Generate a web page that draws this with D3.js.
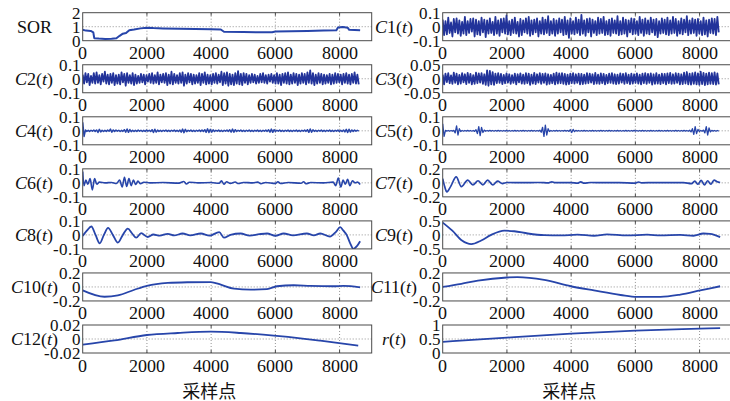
<!DOCTYPE html>
<html>
<head>
<meta charset="utf-8">
<script src="https://cdn.jsdelivr.net/npm/d3@7/dist/d3.min.js"></script>
<style>
  @font-face { font-family: "SerifLocal"; font-style: normal; src: local("Liberation Serif"), local("LiberationSerif"), local("Times New Roman"); }
  @font-face { font-family: "SerifLocal"; font-style: italic; src: local("Liberation Serif Italic"), local("LiberationSerif-Italic"), local("Times New Roman Italic"); }
  body { margin: 0; background: #fff; }
  svg { display: block; }
  svg text { font-family: "SerifLocal", "Liberation Serif", "Times New Roman", serif; }
  svg text.cjk { font-family: "Noto Sans CJK SC", sans-serif; }
  .box { fill: none; stroke: #4a4a4a; stroke-width: 1; }
  .grid { stroke: #777; stroke-width: 0.8; stroke-dasharray: 1,2; }
  .sig { fill: none; stroke-linejoin: round; }
</style>
</head>
<body>
<script>
// record length (samples) and x axis
var N = 8640;
var xTicks = [0, 2000, 4000, 6000, 8000];
var xMax = 9000;

// slow components as [sample, value]
var sorData = [[0,.78],[100,.72],[250,.7],[330,.6],[360,.18],[500,.15],[700,.13],[900,.14],[1050,.18],[1150,.35],[1250,.5],[1350,.55],[1450,.75],[1600,.8],[1800,.88],[2000,.93],[2200,.9],[2500,.88],[3000,.86],[3500,.84],[4000,.82],[4300,.8],[4400,.64],[5000,.62],[5500,.6],[5900,.6],[6000,.65],[6500,.68],[7000,.7],[7500,.72],[7900,.74],[7950,.95],[8100,.98],[8250,.93],[8300,.78],[8640,.74]];

var c6Data = [[0,.08],[40,-.02],[100,.02],[160,-.01],[230,.03],[300,-.05],[370,.03],[440,-.01],[520,.005],[700,0],[900,.003],[1050,-.005],[1150,.02],[1230,-.03],[1300,.04],[1370,-.025],[1440,.03],[1510,-.02],[1580,.02],[1650,-.012],[1720,.012],[1800,-.006],[1900,.004],[2100,0],[2500,.002],[3000,-.002],[3150,.01],[3230,-.008],[3320,.004],[3600,0],[4000,.002],[4250,-.003],[4320,.015],[4400,-.01],[4480,.008],[4600,-.004],[4750,.006],[4850,-.005],[5000,.003],[5300,0],[5450,.005],[5550,-.006],[5700,.003],[6000,-.004],[6080,.008],[6160,-.005],[6400,.002],[6800,-.003],[6880,.008],[6950,-.006],[7100,.002],[7500,0],[7800,.005],[7880,-.02],[7960,.035],[8040,-.03],[8110,.02],[8180,-.01],[8250,.025],[8320,-.02],[8400,.015],[8480,0],[8560,.005],[8640,-.012]];

var c7Data = [[0,.06],[60,-.05],[130,-.13],[250,-.05],[420,.085],[580,-.055],[780,.04],[940,-.03],[1100,.03],[1250,-.03],[1400,.04],[1560,-.03],[1710,.025],[1860,-.01],[2000,.005],[2500,.003],[3000,.005],[3300,0],[3400,.015],[3500,.002],[4000,.004],[4200,-.005],[4300,.015],[4400,-.005],[4600,.005],[5000,.002],[5500,.004],[6000,-.003],[6100,.012],[6200,0],[6600,.004],[7000,.002],[7500,.004],[7750,-.01],[7850,.025],[7950,-.02],[8050,.035],[8150,-.03],[8250,.03],[8350,-.02],[8450,.04],[8550,.015],[8640,.005]];

var c8Data = [[0,-.007],[130,.03],[270,.06],[400,0],[530,-.06],[660,0],[790,.05],[940,0],[1095,-.055],[1250,0],[1405,.045],[1540,.01],[1665,-.02],[1820,.012],[2025,-.015],[2200,.003],[2400,-.005],[2650,.008],[2850,-.004],[3110,.01],[3350,-.003],[3680,.01],[3950,-.005],[4250,.02],[4400,-.02],[4600,0],[4920,.01],[5200,-.005],[5500,.005],[5740,.01],[6000,-.006],[6260,.01],[6550,-.004],[6980,.01],[7200,-.003],[7400,.01],[7700,-.012],[7880,.02],[8020,.055],[8120,.03],[8220,0],[8330,-.06],[8430,-.1],[8540,-.08],[8640,-.045]];

var c9Data = [[0,.44],[300,.15],[600,-.2],[890,-.33],[1200,-.2],[1510,0],[1920,.15],[2230,.13],[2650,.05],[3160,-.01],[3680,-.02],[4200,.01],[4710,-.03],[5120,.02],[5740,-.02],[6370,.01],[6780,-.02],[7400,0],[7810,-.03],[8120,.05],[8330,.04],[8640,-.08]];

var c10Data = [[0,-.048],[680,-.14],[1095,-.12],[1610,-.04],[2000,.015],[2650,.057],[3260,.067],[3990,.07],[4300,.033],[4710,-.024],[5230,-.038],[5740,-.03],[6050,.01],[6570,.024],[7090,.015],[7810,.01],[8120,.015],[8640,-.005]];

var c11Data = [[0,0],[580,.045],[1095,.09],[2000,.135],[2330,.14],[3160,.1],[3990,.01],[4710,-.05],[5540,-.115],[6050,-.143],[6780,-.143],[7400,-.11],[8020,-.05],[8640,.01]];

var c12Data = [[0,-.0081],[990,-.002],[2000,.0057],[2960,.0086],[3990,.0105],[4920,.0086],[5950,.0048],[6780,.001],[7400,-.0024],[8580,-.0095]];

var rData = [[0,.4],[2000,.55],[4000,.69],[6000,.8],[8000,.87],[8640,.89]];

// fast components, read as evenly spaced samples across the record
var c1Vals = [.05,-.06,.04,-.055,.065,-.045,.03,-.07,.055,-.04,.06,-.05,.045,-.065,.035,-.05,.07,-.06,.04,-.045,
.055,-.035,.06,-.07,.05,-.055,.04,-.06,.065,-.04,.05,-.075,.045,-.05,.06,-.045,.035,-.06,.07,-.05,
.045,-.065,.055,-.04,.06,-.05,.08,-.055,.04,-.06,.05,-.045,.065,-.05,.035,-.07,.055,-.06,.045,-.04,
.06,-.05,.07,-.065,.045,-.055,.05,-.04,.06,-.07,.04,-.05,.065,-.055,.05,-.045,.075,-.06,.04,-.05,
.055,-.065,.045,-.05,.06,-.04,.05,-.06,.07,-.055,.045,-.08,.06,-.05,.04,-.055,.065,-.045,.05,-.06,
.085,-.05,.045,-.065,.055,-.04,.06,-.07,.05,-.045,.04,-.06,.065,-.05,.055,-.045,.07,-.06,.04,-.055,
.05,-.065,.06,-.045,.045,-.05,.075,-.06,.04,-.055,.065,-.05,.05,-.07,.045,-.04,.06,-.055,.055,-.05,
.04,-.06,.07,-.045,.05,-.065,.06,-.05,.045,-.055,.065,-.04,.05,-.06,.055,-.075,.04,-.05,.06,-.045,
.05,-.055,.065,-.06,.045,-.05,.07,-.045,.055,-.065,.04,-.05,.06,-.055,.05,-.04,.075,-.06,.045,-.05,
.06,-.045,.05,-.065,.055,-.05,.04,-.06,.065,-.055,.045,-.07,.05,-.045,.06,-.05,.055,-.06,.07,-.04];

var c2Vals = [.03,-.035,.04,-.025,.035,-.045,.02,-.03,.04,-.035,.045,-.03,.025,-.04,.035,-.02,.05,-.035,.03,-.04,
.035,-.03,.04,-.045,.025,-.035,.03,-.04,.045,-.025,.035,-.05,.04,-.03,.025,-.035,.04,-.045,.03,-.035,
.02,-.03,.035,-.025,.03,-.04,.025,-.02,.035,-.03,.04,-.035,.025,-.03,.045,-.04,.03,-.025,.035,-.03,
.04,-.045,.03,-.035,.05,-.04,.035,-.03,.025,-.035,.04,-.03,.045,-.05,.03,-.035,.04,-.025,.035,-.04,
.03,-.035,.025,-.03,.04,-.045,.035,-.03,.045,-.04,.03,-.035,.025,-.04,.035,-.03,.04,-.035,.03,-.025,
.05,-.045,.04,-.035,.045,-.05,.035,-.04,.03,-.045,.04,-.035,.055,-.04,.035,-.045,.04,-.03,.035,-.04,
.025,-.03,.035,-.025,.03,-.035,.02,-.03,.035,-.025,.04,-.03,.025,-.035,.03,-.02,.035,-.03,.025,-.035,
.04,-.035,.03,-.045,.035,-.03,.04,-.035,.045,-.04,.03,-.035,.04,-.03,.035,-.045,.03,-.035,.04,-.03,
.035,-.04,.045,-.03,.06,-.035,.04,-.045,.03,-.035,.04,-.03,.035,-.04,.03,-.035,.025,-.03,.035,-.04,
.03,-.035,.04,-.03,.035,-.025,.03,-.04,.035,-.03,.04,-.035,.03,-.04,.035,-.03,.045,-.035,.03,-.04];

var c3Vals = [.015,-.02,.018,-.012,.02,-.016,.012,-.018,.022,-.015,.018,-.02,.014,-.017,.02,-.013,.016,-.019,.021,-.015,
.017,-.02,.013,-.018,.022,-.016,.019,-.014,.02,-.018,.016,-.022,.03,-.025,.028,-.02,.024,-.022,.018,-.016,
.02,-.015,.017,-.019,.014,-.016,.019,-.014,.016,-.018,.013,-.015,.018,-.02,.016,-.013,.019,-.017,.015,-.018,
.02,-.016,.018,-.022,.015,-.017,.021,-.019,.016,-.014,.02,-.018,.017,-.015,.019,-.021,.016,-.018,.014,-.016,
.018,-.02,.022,-.017,.019,-.016,.02,-.018,.017,-.021,.015,-.019,.018,-.016,.02,-.017,.016,-.015,.018,-.02,
.017,-.019,.015,-.017,.02,-.016,.018,-.014,.016,-.019,.021,-.017,.015,-.018,.019,-.016,.017,-.02,.014,-.016,
.018,-.015,.02,-.017,.016,-.019,.015,-.017,.019,-.014,.017,-.018,.02,-.016,.015,-.019,.018,-.017,.016,-.015,
.019,-.017,.015,-.02,.018,-.016,.02,-.018,.017,-.015,.019,-.021,.016,-.018,.02,-.017,.015,-.019,.018,-.016,
.017,-.02,.019,-.016,.021,-.018,.016,-.017,.02,-.015,.018,-.02,.016,-.019,.022,-.017,.024,-.02,.018,-.021,
.02,-.018,.023,-.02,.019,-.022,.025,-.019,.021,-.023,.018,-.02,.022,-.018,.02,-.019,.023,-.021,.019,-.02];

var c4Vals = [.06,-.04,.005,-.004,.003,-.005,.004,-.003,.005,-.004,.006,-.012,.01,-.008,.004,-.005,.003,-.004,.005,-.003,
.012,-.01,.006,-.004,.005,-.003,.004,-.005,.003,-.004,.008,-.01,.013,-.011,.009,-.006,.004,-.005,.003,-.004,
.005,-.003,.004,-.005,.003,-.004,.005,-.003,.004,-.005,.008,-.012,.011,-.009,.005,-.004,.003,-.005,.004,-.003,
.005,-.004,.003,-.005,.004,-.003,.005,-.004,.003,-.005,.006,-.01,.012,-.013,.01,-.006,.004,-.003,.005,-.004,
.003,-.005,.004,-.003,.005,-.004,.006,-.005,.008,-.011,.014,-.012,.01,-.009,.007,-.005,.004,-.003,.005,-.004,
.003,-.005,.004,-.003,.005,-.004,.007,-.009,.012,-.01,.008,-.005,.004,-.003,.005,-.004,.003,-.005,.004,-.003,
.005,-.004,.003,-.005,.004,-.003,.005,-.004,.003,-.005,.004,-.003,.005,-.004,.007,-.01,.012,-.011,.008,-.005,
.004,-.003,.005,-.004,.003,-.005,.004,-.003,.005,-.004,.003,-.005,.004,-.003,.005,-.004,.003,-.005,.004,-.003,
.005,-.004,.008,-.011,.013,-.01,.007,-.004,.003,-.005,.004,-.003,.005,-.004,.003,-.005,.004,-.003,.005,-.004,
.003,-.005,.004,-.003,.005,-.004,.003,-.005,.006,-.008,.01,-.012,.011,-.009,.006,-.004,.005,-.003,.004,-.003];

var c5Vals = [.05,-.04,.003,-.002,.002,-.003,.002,-.002,.003,-.015,.035,-.03,.015,-.005,.002,-.003,.002,-.002,.003,-.002,
.002,-.003,.002,-.004,.008,-.02,.03,-.035,.025,-.012,.005,-.003,.002,-.002,.003,-.002,.002,-.003,.002,-.002,
.003,-.002,.002,-.003,.002,-.002,.003,-.002,.002,-.003,.002,-.002,.003,-.002,.002,-.003,.002,-.002,.003,-.002,
.002,-.003,.002,-.002,.003,-.002,.002,-.003,.002,-.002,.004,-.01,.025,-.04,.04,-.03,.015,-.005,.002,-.003,
.002,-.002,.003,-.002,.002,-.003,.002,-.002,.003,-.002,.002,-.004,.008,-.012,.01,-.006,.003,-.002,.002,-.003,
.002,-.002,.003,-.002,.002,-.003,.002,-.002,.003,-.002,.002,-.003,.002,-.002,.003,-.002,.002,-.003,.002,-.002,
.003,-.002,.002,-.003,.002,-.002,.003,-.002,.002,-.003,.002,-.002,.003,-.002,.002,-.003,.002,-.002,.003,-.002,
.002,-.003,.002,-.002,.003,-.002,.002,-.003,.002,-.002,.003,-.002,.002,-.003,.002,-.002,.003,-.002,.002,-.003,
.002,-.002,.003,-.002,.002,-.003,.002,-.002,.003,-.002,.002,-.003,.002,-.002,.003,-.002,.002,-.003,.004,-.008,
.015,-.025,.03,-.02,.01,-.004,.002,-.003,.005,-.015,.03,-.03,.02,-.008,.003,-.002,.002,-.003,.002,-.002];

// y ticks per panel
var sorTicks = [0, 1, 2];
var c1Ticks = [-0.1, 0, 0.1];
var c3Ticks = [-0.05, 0, 0.05];
var c7Ticks = [-0.2, 0, 0.2];
var c9Ticks = [-0.5, 0, 0.5];
var c12Ticks = [-0.02, 0, 0.02];
var rTicks = [0, 0.5, 1];

function spread(vals) {
  var step = N / vals.length;
  return vals.map(function(v, i) { return [i * step, v]; });
}

var panels = [
  {col:0, row:0, lab:["SOR"],            data:sorData,        ticks:sorTicks, curve:d3.curveLinear, w:2},
  {col:0, row:1, lab:["C","2(","t",")"], data:spread(c2Vals), ticks:c1Ticks,  curve:d3.curveLinear, w:1.8, dark:true},
  {col:0, row:2, lab:["C","4(","t",")"], data:spread(c4Vals), ticks:c1Ticks,  curve:d3.curveLinear, w:1.5},
  {col:0, row:3, lab:["C","6(","t",")"], data:c6Data,         ticks:c1Ticks,  curve:d3.curveMonotoneX, w:1.6},
  {col:0, row:4, lab:["C","8(","t",")"], data:c8Data,         ticks:c1Ticks,  curve:d3.curveMonotoneX, w:1.8},
  {col:0, row:5, lab:["C","10(","t",")"],data:c10Data,        ticks:c7Ticks,  curve:d3.curveMonotoneX, w:1.8},
  {col:0, row:6, lab:["C","12(","t",")"],data:c12Data,        ticks:c12Ticks, curve:d3.curveMonotoneX, w:1.8},
  {col:1, row:0, lab:["C","1(","t",")"], data:spread(c1Vals), ticks:c1Ticks,  curve:d3.curveLinear, w:1.8, dark:true},
  {col:1, row:1, lab:["C","3(","t",")"], data:spread(c3Vals), ticks:c3Ticks,  curve:d3.curveLinear, w:1.8, dark:true},
  {col:1, row:2, lab:["C","5(","t",")"], data:spread(c5Vals), ticks:c1Ticks,  curve:d3.curveLinear, w:1.3},
  {col:1, row:3, lab:["C","7(","t",")"], data:c7Data,         ticks:c7Ticks,  curve:d3.curveMonotoneX, w:1.7},
  {col:1, row:4, lab:["C","9(","t",")"], data:c9Data,         ticks:c9Ticks,  curve:d3.curveMonotoneX, w:1.8},
  {col:1, row:5, lab:["C","11(","t",")"],data:c11Data,        ticks:c7Ticks,  curve:d3.curveMonotoneX, w:1.8},
  {col:1, row:6, lab:["r","(","t",")"],  data:rData,          ticks:rTicks,   curve:d3.curveMonotoneX, w:1.8}
];

var colX = [82.7, 442.7], top0 = 12.7, rowStep = 52.05, boxW = 289, boxH = 28;

var svg = d3.select("body").append("svg").attr("width", 730).attr("height", 401);

var x = d3.scaleLinear().domain([0, xMax]).range([0, boxW]);

panels.forEach(function(p, k) {
  var ox = colX[p.col], oy = top0 + p.row * rowStep;
  var y = d3.scaleLinear().domain([p.ticks[0], p.ticks[p.ticks.length - 1]]).range([boxH, 0]);
  var g = svg.append("g").attr("transform", "translate(" + ox + "," + oy + ")");

  g.append("clipPath").attr("id", "clip" + k)
    .append("rect").attr("width", boxW).attr("height", boxH);

  // dotted grid
  g.selectAll(".gx").data(xTicks.slice(1)).enter().append("line")
    .attr("class", "grid").attr("x1", x).attr("x2", x).attr("y1", 0).attr("y2", boxH);
  g.selectAll(".gy").data(p.ticks.slice(1, -1)).enter().append("line")
    .attr("class", "grid").attr("x1", 0).attr("x2", boxW)
    .attr("y1", function(d) { return y(d); }).attr("y2", function(d) { return y(d); });

  var line = d3.line().x(function(d) { return x(d[0]); }).y(function(d) { return y(d[1]); }).curve(p.curve);
  g.append("path").datum(p.data).attr("class", "sig")
    .attr("clip-path", "url(#clip" + k + ")")
    .attr("stroke", p.dark ? "#22339a" : "#2745aa")
    .attr("stroke-width", p.w).attr("d", line);

  g.append("rect").attr("class", "box").attr("width", boxW).attr("height", boxH);

  // inward tick marks
  xTicks.slice(1).forEach(function(t) {
    g.append("line").attr("stroke", "#4a4a4a").attr("x1", x(t)).attr("x2", x(t)).attr("y1", boxH).attr("y2", boxH - 3);
    g.append("line").attr("stroke", "#4a4a4a").attr("x1", x(t)).attr("x2", x(t)).attr("y1", 0).attr("y2", 3);
  });

  g.selectAll(".xt").data(xTicks).enter().append("text")
    .style("font-size", "18px").attr("fill", "#111").attr("text-anchor", "middle")
    .attr("x", x).attr("y", boxH + 18.5).text(function(d) { return d; });

  g.selectAll(".yt").data(p.ticks).enter().append("text")
    .style("font-size", "17px").attr("fill", "#111").attr("text-anchor", "end")
    .attr("x", -2).attr("y", function(d) { return y(d); }).attr("dy", "0.36em")
    .text(function(d) { return String(d); });

  var lab = g.append("text").style("font-size", "18px").attr("fill", "#111")
    .attr("text-anchor", "middle").attr("x", -48.5).attr("y", boxH / 2 + 6);
  if (p.lab.length === 1) {
    lab.text(p.lab[0]);
  } else {
    p.lab.forEach(function(s, i) {
      lab.append("tspan").style("font-style", (i === 0 || i === 2) ? "italic" : "normal").text(s);
    });
  }

  if (p.row === 6) {
    g.append("text").attr("class", "cjk").style("font-size", "18px").attr("fill", "#111")
      .attr("text-anchor", "middle").attr("x", x(4000) - 2).attr("y", boxH + 44.5).text("采样点");
  }
});
</script>
</body>
</html>
